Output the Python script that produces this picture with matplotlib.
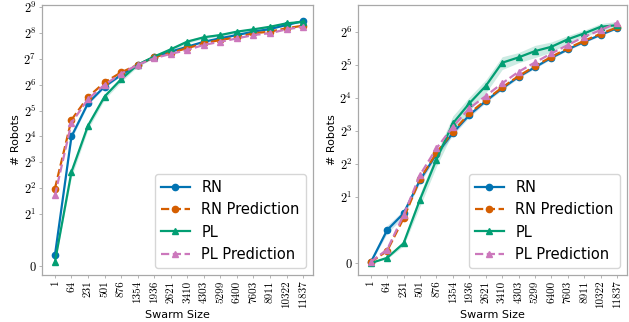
import matplotlib

matplotlib.use("Agg")
import matplotlib.pyplot as plt

plt.rcParams["mathtext.fontset"] = "cm"

swarm_sizes = ["1", "64", "231", "501", "876", "1354", "1936", "2621", "3410",
               "4303", "5299", "6400", "7603", "8911", "10322", "11837"]

# left panel
left_rn = [0.41, 16.0, 39, 61, 83, 109, 134, 155, 177, 202, 222, 242, 265, 284, 317, 352]
left_rn_err = [0.05, 1.0, 1.5, 2, 2, 2, 3, 3, 3, 3, 4, 4, 4, 4, 4, 4]
left_rn_pred = [3.97, 25, 46, 68, 89, 109, 134, 151, 170, 194, 212, 228, 254, 265, 290, 311]
left_pl = [0.15, 6.2, 21.4, 46.6, 74, 109, 136, 165, 203, 228, 242, 265, 282, 302, 331, 345]
left_pl_err = [0.05, 0.8, 2.0, 3.5, 5, 5, 6, 7, 9, 9, 9, 9, 9, 10, 10, 10]
left_pl_pred = [3.3, 23, 43.5, 64, 86, 109, 130, 146, 162, 186, 202, 221, 242, 254, 282, 302]

# right panel
right_rn = [0.02, 1.0, 1.42, 2.86, 4.93, 7.7, 11.2, 15.0, 19.6, 25.0, 30.6, 37.3, 44.5, 52.2, 60.5, 69.5]
right_rn_err = [0.02, 0.1, 0.1, 0.15, 0.3, 0.4, 0.5, 0.5, 0.6, 0.7, 0.8, 0.9, 1.0, 1.1, 1.2, 1.3]
right_rn_pred = [0.03, 0.37, 1.28, 2.92, 5.07, 7.9, 11.6, 15.3, 20.0, 25.4, 31.3, 38.1, 45.5, 53.3, 61.8, 70.5]
right_pl = [0.0, 0.16, 0.6, 1.9, 4.4, 9.4, 14.3, 20.6, 33.6, 37.6, 42.9, 47, 55, 62.3, 71.5, 74]
right_pl_err = [0.0, 0.03, 0.08, 0.25, 0.6, 1.6, 2.0, 2.8, 4.5, 4.0, 5.5, 5.0, 4.5, 4.5, 5.0, 6.0]
right_pl_pred = [0.04, 0.41, 1.37, 3.18, 5.57, 8.75, 12.9, 16.7, 21.8, 27.8, 33.8, 40.9, 48.8, 58, 66.7, 77.7]

left_yticks = [0, 2, 4, 8, 16, 32, 64, 128, 256, 512]
right_yticks = [0, 2, 4, 8, 16, 32, 64]

BLUE, ORANGE, GREEN, PINK = "#0173b2", "#d55e00", "#029e73", "#cc78bc"
SPINE = "#a8a8a8"


def draw_panel(ax, rn, rn_err, rn_pred, pl, pl_err, pl_pred, yticks, ylim):
    ax.set_yscale("symlog", base=2, linthresh=1, linscale=0.5)
    x = swarm_sizes

    lo = [v - e for v, e in zip(rn, rn_err)]
    hi = [v + e for v, e in zip(rn, rn_err)]
    ax.fill_between(x, lo, hi, color=BLUE, alpha=0.2, lw=0)
    lo = [v - e for v, e in zip(pl, pl_err)]
    hi = [v + e for v, e in zip(pl, pl_err)]
    ax.fill_between(x, lo, hi, color=GREEN, alpha=0.2, lw=0)

    ax.plot(x, rn, color=BLUE, marker="o", ms=4.5, lw=1.6, label="RN")
    ax.plot(x, rn_pred, color=ORANGE, marker="o", ms=4.5, lw=1.6, ls="--", label="RN Prediction")
    ax.plot(x, pl, color=GREEN, marker="^", ms=4.5, lw=1.6, label="PL")
    ax.plot(x, pl_pred, color=PINK, marker="^", ms=4.5, lw=1.6, ls="--", label="PL Prediction")

    ax.set_yticks(yticks)
    ax.set_yticklabels(["$0$"] + [f"$2^{{{i}}}$" for i in range(1, len(yticks))], fontsize=9)
    ax.minorticks_off()
    ax.set_ylim(*ylim)
    ax.set_xlim(-0.78, 15.6)
    ax.set_xticks(range(len(swarm_sizes)))
    ax.set_xticklabels(swarm_sizes, rotation=90, fontsize=8, family="cmr10")
    ax.tick_params(length=2, width=0.6, color=SPINE, pad=2)
    for s in ax.spines.values():
        s.set_color(SPINE)
        s.set_linewidth(0.9)
    ax.set_xlabel("Swarm Size", fontsize=8, labelpad=1)
    ax.set_ylabel("# Robots", fontsize=8, labelpad=2)
    ax.legend(loc="lower right", fontsize=10.5, handlelength=2.0)


fig = plt.figure(figsize=(6.29, 3.22), dpi=100)
ax1 = fig.add_axes([0.0668, 0.146, 0.4308, 0.8385])
ax2 = fig.add_axes([0.569, 0.146, 0.4278, 0.8385])

draw_panel(ax1, left_rn, left_rn_err, left_rn_pred, left_pl, left_pl_err, left_pl_pred,
           left_yticks, (-0.35, 541))
draw_panel(ax2, right_rn, right_rn_err, right_rn_pred, right_pl, right_pl_err, right_pl_pred,
           right_yticks, (-0.36, 113))

fig.savefig("out.png", dpi=100)
